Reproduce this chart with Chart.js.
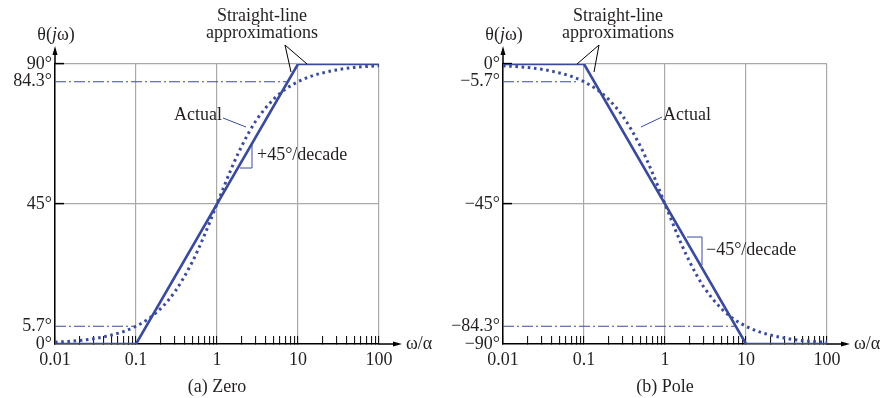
<!DOCTYPE html>
<html>
<head>
<meta charset="utf-8">
<script src="https://cdn.jsdelivr.net/npm/chart.js@4"></script>
<style>
  html, body { margin: 0; padding: 0; background: #fff; }
  .wrap { position: relative; width: 896px; height: 398px; }
  canvas { position: absolute; top: 0; }
  #zeroChart { left: 0; }
  #poleChart { left: 448px; }
</style>
</head>
<body>
<div class="wrap">
  <canvas id="zeroChart" width="448" height="398"></canvas>
  <canvas id="poleChart" width="448" height="398"></canvas>
</div>
<script>
// frequency samples (omega / alpha) for the "actual" curves
const omega = [0.01, 0.02, 0.03, 0.05, 0.07, 0.1, 0.15, 0.2, 0.3, 0.5, 0.7, 1,
  1.5, 2, 3, 5, 7, 10, 15, 20, 30, 50, 70, 100];
const zeroActual = [0.6, 1.1, 1.7, 2.9, 4.0, 5.7, 8.5, 11.3, 16.7, 26.6, 35.0, 45,
  56.3, 63.4, 71.6, 78.7, 81.9, 84.3, 86.2, 87.1, 88.1, 88.9, 89.2, 89.4];
const poleActual = [-0.6, -1.1, -1.7, -2.9, -4.0, -5.7, -8.5, -11.3, -16.7, -26.6, -35.0, -45,
  -56.3, -63.4, -71.6, -78.7, -81.9, -84.3, -86.2, -87.1, -88.1, -88.9, -89.2, -89.4];

// straight-line approximations
const approxOmega = [0.01, 0.1, 10, 100];
const zeroApprox = [0, 0, 90, 90];
const poleApprox = [0, 0, -90, -90];

// dash-dot guide lines
const zeroGuideLowX = [0.01, 0.1], zeroGuideLow = [5.7, 5.7];
const zeroGuideHighX = [0.01, 7.5], zeroGuideHigh = [84.3, 84.3];
const poleGuideLowX = [0.01, 0.08], poleGuideLow = [-5.7, -5.7];
const poleGuideHighX = [0.01, 7.5], poleGuideHigh = [-84.3, -84.3];

// axis ticks
const decades = [0.01, 0.1, 1, 10, 100];
const zeroTicks = [0, 5.7, 45, 84.3, 90];
const poleTicks = [-90, -84.3, -45, -5.7, 0];

const blue = "#3b4b9b";
const gray = "#a9a9a9";
const ink = "#231f20";

Chart.defaults.font.family = "'Liberation Serif', 'DejaVu Serif', serif";
Chart.defaults.font.size = 18;
Chart.defaults.color = ink;

// minor tick positions for the log axis
const xTicks = [];
decades.forEach((d, i) => {
  if (i === decades.length - 1) { xTicks.push(d); return; }
  for (let k = 1; k <= 9; k++) xTicks.push(+(d * k).toPrecision(3));
});

const pts = (xs, ys) => xs.map((x, i) => ({ x: x, y: ys[i] }));
const deg = (v) => (v < 0 ? "\u2212" + Math.abs(v) : String(v)) + "\u00b0";

function line(ctx, x1, y1, x2, y2, color, w) {
  ctx.beginPath();
  ctx.strokeStyle = color;
  ctx.lineWidth = w;
  ctx.moveTo(x1, y1);
  ctx.lineTo(x2, y2);
  ctx.stroke();
}

const notesPlugin = {
  id: "notes",
  afterDraw(chart) {
    const n = chart.options.plugins.notes;
    const ctx = chart.ctx;
    const a = chart.chartArea;
    ctx.save();
    const font = Chart.defaults.font.family;
    ctx.font = "18px " + font;
    ctx.fillStyle = ink;
    ctx.textBaseline = "middle";

    // axis arrows
    line(ctx, a.left, a.top, a.left, a.top - 12, "#000", 1.5);
    ctx.beginPath();
    ctx.moveTo(a.left, a.top - 18);
    ctx.lineTo(a.left - 2.5, a.top - 9);
    ctx.lineTo(a.left + 2.5, a.top - 9);
    ctx.closePath();
    ctx.fillStyle = "#000";
    ctx.fill();
    line(ctx, a.right, a.bottom, a.right + 16, a.bottom, "#000", 1.5);
    ctx.beginPath();
    ctx.moveTo(a.right + 23, a.bottom);
    ctx.lineTo(a.right + 14, a.bottom - 2.5);
    ctx.lineTo(a.right + 14, a.bottom + 2.5);
    ctx.closePath();
    ctx.fill();

    ctx.fillStyle = ink;
    ctx.textAlign = "left";
    ctx.fillText("\u03c9/\u03b1", a.right + 27, a.bottom);

    // y axis title theta(j omega)
    const p1 = "\u03b8(", p2 = "j", p3 = "\u03c9)";
    ctx.font = "18px " + font;
    const w1 = ctx.measureText(p1).width, w3 = ctx.measureText(p3).width;
    ctx.font = "italic 18px " + font;
    const w2 = ctx.measureText(p2).width;
    let tx = a.left + 1 - (w1 + w2 + w3) / 2;
    ctx.font = "18px " + font;
    ctx.fillText(p1, tx, 35);
    ctx.font = "italic 18px " + font;
    ctx.fillText(p2, tx + w1, 35);
    ctx.font = "18px " + font;
    ctx.fillText(p3, tx + w1 + w2, 35);

    // caption
    ctx.textAlign = "center";
    ctx.fillText(n.caption, (a.left + a.right) / 2, 387);

    // straight-line approximations label
    ctx.fillText("Straight-line", n.slx, 16);
    ctx.fillText("approximations", n.slx, 33);
    line(ctx, n.apex[0], n.apex[1], n.tip1[0], n.tip1[1], "#000", 1);
    line(ctx, n.apex[0], n.apex[1], n.tip2[0], n.tip2[1], "#000", 1);

    // actual label
    ctx.fillText("Actual", n.actual[0], n.actual[1]);
    line(ctx, n.lead[0], n.lead[1], n.lead[2], n.lead[3], blue, 1);

    // slope triangle
    line(ctx, n.tri[0], n.tri[1], n.tri[0], n.tri[2], blue, 1);
    line(ctx, n.tri[3], n.tri[4], n.tri[0], n.tri[4], blue, 1);
    ctx.textAlign = "left";
    ctx.fillText(n.slope, n.slopeAt[0], n.slopeAt[1]);
    ctx.restore();
  }
};

function makeChart(id, actual, approx, guides, yTicks, notes) {
  const yMin = Math.min(...yTicks), yMax = Math.max(...yTicks);
  const gridY = [45, -45, yMax];
  new Chart(document.getElementById(id), {
    type: "line",
    data: {
      datasets: [
        {
          data: pts(omega, actual),
          borderColor: blue,
          borderWidth: 3,
          borderDash: [2.6, 3.6],
          pointRadius: 0,
          cubicInterpolationMode: "monotone"
        },
        {
          data: pts(approxOmega, approx),
          borderColor: blue,
          borderWidth: 2.6,
          pointRadius: 0,
          tension: 0
        },
        ...guides.map(g => ({
          data: pts(g[0], g[1]),
          borderColor: blue,
          borderWidth: 1.2,
          borderDash: [11, 3, 2, 3],
          pointRadius: 0
        }))
      ]
    },
    options: {
      responsive: false,
      animation: false,
      layout: { padding: { top: 64, right: 69, left: 0, bottom: 0 } },
      plugins: {
        legend: { display: false },
        tooltip: { enabled: false },
        notes: notes
      },
      scales: {
        x: {
          type: "logarithmic",
          min: 0.01,
          max: 100,
          afterBuildTicks: (s) => { s.ticks = xTicks.map(v => ({ value: v })); },
          afterFit: (s) => { s.height = 54; },
          ticks: {
            autoSkip: false,
            maxRotation: 0,
            padding: 13,
            color: ink,
            callback: (v) => decades.includes(v) ? String(v) : ""
          },
          grid: {
            color: (c) => decades.includes(c.tick.value) ? gray : "rgba(0,0,0,0)",
            tickColor: "#000",
            tickLength: -8,
            lineWidth: 1.2,
            tickWidth: 1
          },
          border: { color: "#000", width: 1.5 }
        },
        y: {
          min: yMin,
          max: yMax,
          afterBuildTicks: (s) => { s.ticks = yTicks.map(v => ({ value: v })); },
          afterFit: (s) => { s.width = 55; },
          ticks: {
            padding: 12,
            color: ink,
            callback: (v) => deg(v)
          },
          grid: {
            color: (c) => gridY.includes(c.tick.value) ? gray : "rgba(0,0,0,0)",
            tickColor: (c) => gridY.includes(c.tick.value) ? "#000" : "rgba(0,0,0,0)",
            tickLength: -9,
            lineWidth: 1.2,
            tickWidth: 1.5
          },
          border: { color: "#000", width: 1.5 }
        }
      }
    },
    plugins: [notesPlugin]
  });
}

makeChart("zeroChart", zeroActual, zeroApprox,
  [[zeroGuideLowX, zeroGuideLow], [zeroGuideHighX, zeroGuideHigh]],
  zeroTicks,
  {
    caption: "(a) Zero",
    slx: 262, apex: [285, 45], tip1: [291, 72], tip2: [307, 64],
    actual: [198, 115], lead: [223, 118, 246, 127],
    tri: [252, 143, 168, 240, 168],
    slope: "+45\u00b0/decade", slopeAt: [257, 155]
  });

makeChart("poleChart", poleActual, poleApprox,
  [[poleGuideLowX, poleGuideLow], [poleGuideHighX, poleGuideHigh]],
  poleTicks,
  {
    caption: "(b) Pole",
    slx: 170, apex: [151, 45], tip1: [129, 64], tip2: [146, 72],
    actual: [239, 115], lead: [214, 117, 193, 127],
    tri: [254, 237, 265, 239, 237],
    slope: "\u221245\u00b0/decade", slopeAt: [258, 250]
  });
</script>
</body>
</html>
